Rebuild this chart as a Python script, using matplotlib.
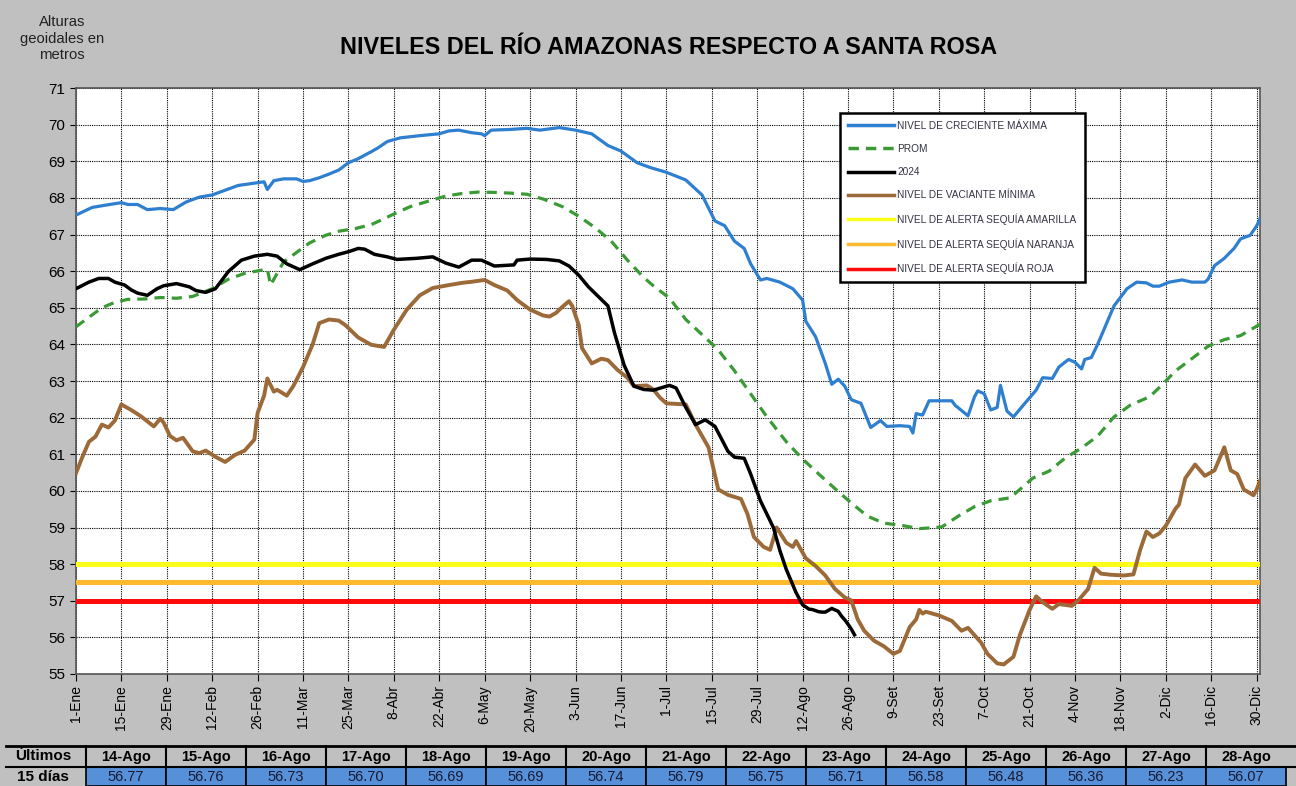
import numpy as np
import matplotlib
matplotlib.use("Agg")
import matplotlib.pyplot as plt
from matplotlib.patches import Rectangle
from matplotlib.lines import Line2D

plt.rcParams['font.family'] = ['Liberation Sans', 'DejaVu Sans']

# Dias del año (0 = 1-Ene, año bisiesto) y niveles en metros
max_dias = [0, 5, 9, 14, 16, 19, 22, 26, 30, 34, 38, 42, 46, 50, 54, 58, 59, 61, 64, 68, 70, 72, 75,
            78, 81, 84, 87, 91, 93, 96, 100, 106, 112, 115, 118, 122, 125, 126, 128, 134, 139, 143,
            149, 154, 159, 164, 168, 173, 177, 182, 188, 193, 197, 200, 203, 206, 208, 211, 213, 217,
            221, 224, 225, 228, 231, 233, 235, 237, 239, 242, 245, 248, 250, 254, 257, 258, 259, 261,
            263, 270, 271, 275, 277, 278, 280, 282, 284, 285, 287, 289, 293, 296, 298, 301, 303, 306,
            308, 310, 311, 313, 315, 320, 324, 327, 330, 332, 334, 337, 341, 344, 348, 349, 351, 354,
            357, 359, 362, 364, 365]
max_nivel = [67.53, 67.74, 67.80, 67.87, 67.82, 67.82, 67.68, 67.71, 67.68, 67.89, 68.02, 68.08, 68.21,
             68.34, 68.39, 68.44, 68.23, 68.47, 68.52, 68.52, 68.45, 68.47, 68.55, 68.65, 68.76, 68.96,
             69.07, 69.26, 69.36, 69.54, 69.64, 69.70, 69.75, 69.83, 69.85, 69.78, 69.75, 69.70, 69.85,
             69.87, 69.90, 69.85, 69.92, 69.85, 69.75, 69.43, 69.28, 68.96, 68.83, 68.70, 68.49, 68.08,
             67.37, 67.24, 66.82, 66.62, 66.20, 65.76, 65.80, 65.70, 65.52, 65.21, 64.63, 64.21, 63.48,
             62.91, 63.05, 62.86, 62.49, 62.39, 61.73, 61.92, 61.76, 61.78, 61.76, 61.58, 62.11, 62.07,
             62.46, 62.46, 62.34, 62.05, 62.57, 62.73, 62.65, 62.21, 62.28, 62.88, 62.18, 62.02, 62.44,
             62.75, 63.09, 63.07, 63.38, 63.59, 63.51, 63.33, 63.59, 63.64, 64.01, 65.05, 65.52, 65.70,
             65.68, 65.59, 65.59, 65.70, 65.76, 65.70, 65.70, 65.78, 66.15, 66.35, 66.62, 66.88, 66.98,
             67.24, 67.43]

prom_dias = [0, 4, 8, 12, 16, 21, 26, 31, 36, 42, 47, 52, 58, 59, 60, 64, 68, 72, 77, 81, 86, 91, 93,
             98, 103, 109, 114, 119, 124, 129, 134, 139, 144, 150, 155, 160, 165, 170, 175, 178, 183,
             188, 193, 198, 203, 208, 213, 219, 224, 229, 234, 239, 244, 249, 255, 260, 265, 267, 272,
             277, 282, 288, 291, 295, 300, 305, 310, 315, 320, 325, 331, 335, 339, 344, 349, 354, 359,
             365]
prom_nivel = [64.48, 64.74, 65.00, 65.15, 65.23, 65.24, 65.28, 65.26, 65.31, 65.52, 65.78, 65.94, 66.04,
              66.06, 65.62, 66.25, 66.51, 66.77, 66.98, 67.09, 67.16, 67.27, 67.35, 67.56, 67.76, 67.92,
              68.05, 68.12, 68.16, 68.15, 68.13, 68.10, 67.97, 67.76, 67.50, 67.19, 66.82, 66.30, 65.83,
              65.60, 65.26, 64.68, 64.27, 63.85, 63.28, 62.65, 62.02, 61.34, 60.87, 60.46, 60.06, 59.67,
              59.31, 59.12, 59.05, 58.97, 59.00, 59.02, 59.31, 59.57, 59.73, 59.81, 60.04, 60.35, 60.54,
              60.90, 61.17, 61.50, 62.02, 62.34, 62.57, 62.91, 63.28, 63.61, 63.95, 64.13, 64.24, 64.55]

n2024_dias = [0, 4, 7, 10, 12, 15, 17, 19, 22, 25, 27, 31, 35, 37, 40, 43, 47, 51, 55, 59, 62, 65, 69,
              73, 77, 81, 84, 87, 89, 92, 96, 99, 105, 110, 114, 118, 122, 125, 129, 135, 136, 140, 145,
              149, 152, 155, 158, 161, 164, 166, 169, 172, 175, 178, 181, 183, 185, 188, 191, 194, 197,
              201, 203, 206, 208, 211, 215, 217, 219, 222, 224]
n2024_nivel = [65.52, 65.70, 65.80, 65.80, 65.70, 65.62, 65.49, 65.40, 65.34, 65.52, 65.60, 65.66, 65.57,
               65.47, 65.42, 65.52, 65.99, 66.30, 66.41, 66.46, 66.41, 66.20, 66.04, 66.20, 66.35, 66.46,
               66.53, 66.62, 66.60, 66.46, 66.39, 66.32, 66.35, 66.39, 66.22, 66.11, 66.30, 66.30, 66.14,
               66.17, 66.30, 66.33, 66.32, 66.28, 66.14, 65.89, 65.57, 65.31, 65.05, 64.32, 63.43, 62.86,
               62.77, 62.75, 62.83, 62.88, 62.81, 62.28, 61.81, 61.94, 61.76, 61.08, 60.92, 60.89, 60.46,
               59.73, 59.00, 58.37, 57.85, 57.22, 56.89]

min_dias = [0, 2, 4, 6, 8, 10, 12, 14, 17, 20, 24, 26, 27, 29, 31, 33, 36, 38, 40, 43, 46, 49, 52, 55,
            56, 58, 59, 61, 62, 65, 67, 70, 73, 75, 78, 81, 83, 87, 91, 95, 98, 102, 106, 110, 115, 119,
            122, 126, 129, 133, 136, 140, 144, 146, 148, 150, 152, 153, 155, 156, 159, 162, 164, 167,
            170, 172, 176, 178, 180, 182, 188, 191, 195, 198, 201, 205, 207, 209, 212, 214, 216, 219,
            221, 222, 225, 228, 231, 234, 237, 239, 241, 243, 246, 249, 252, 254, 257, 259, 260, 261,
            262, 266, 270, 273, 275, 279, 281, 284, 286, 289, 291, 294, 296, 298, 301, 303, 307, 309,
            312, 314, 316, 319, 323, 326, 328, 330, 332, 334, 336, 339, 340, 342, 345, 348, 351, 354,
            356, 358, 360, 363, 364, 365]
min_nivel = [60.48, 60.93, 61.34, 61.48, 61.81, 61.73, 61.92, 62.36, 62.21, 62.04, 61.76, 61.97, 61.87,
             61.50, 61.38, 61.45, 61.08, 61.03, 61.10, 60.93, 60.79, 60.98, 61.10, 61.40, 62.13, 62.60,
             63.07, 62.71, 62.76, 62.60, 62.86, 63.38, 64.01, 64.58, 64.68, 64.65, 64.53, 64.19, 63.99,
             63.93, 64.40, 64.95, 65.34, 65.54, 65.62, 65.68, 65.71, 65.76, 65.62, 65.47, 65.21, 64.95,
             64.79, 64.76, 64.86, 65.03, 65.18, 65.05, 64.53, 63.90, 63.48, 63.61, 63.57, 63.30, 63.09,
             62.86, 62.88, 62.77, 62.55, 62.39, 62.36, 61.81, 61.19, 60.04, 59.89, 59.78, 59.37, 58.74,
             58.47, 58.39, 59.00, 58.58, 58.47, 58.63, 58.16, 57.95, 57.69, 57.32, 57.09, 57.01, 56.49,
             56.18, 55.91, 55.76, 55.55, 55.63, 56.28, 56.49, 56.75, 56.65, 56.70, 56.60, 56.45, 56.18,
             56.26, 55.86, 55.55, 55.29, 55.26, 55.47, 56.07, 56.75, 57.12, 56.96, 56.78, 56.91, 56.86,
             57.01, 57.32, 57.90, 57.74, 57.71, 57.69, 57.72, 58.37, 58.89, 58.74, 58.84, 59.05, 59.52,
             59.62, 60.35, 60.72, 60.41, 60.56, 61.19, 60.56, 60.46, 60.04, 59.88, 60.04, 60.27]

alerta_amarilla = 58.0
alerta_naranja = 57.5
alerta_roja = 57.0

# Ultimos 15 dias (14-Ago .. 28-Ago)
tabla_fechas = ['14-Ago', '15-Ago', '16-Ago', '17-Ago', '18-Ago', '19-Ago', '20-Ago', '21-Ago',
                '22-Ago', '23-Ago', '24-Ago', '25-Ago', '26-Ago', '27-Ago', '28-Ago']
tabla_valores = [56.77, 56.76, 56.73, 56.70, 56.69, 56.69, 56.74, 56.79, 56.75, 56.71, 56.58,
                 56.48, 56.36, 56.23, 56.07]
tabla_dias = list(range(226, 241))

etiquetas_x = ['1-Ene', '15-Ene', '29-Ene', '12-Feb', '26-Feb', '11-Mar', '25-Mar', '8-Abr', '22-Abr',
               '6-May', '20-May', '3-Jun', '17-Jun', '1-Jul', '15-Jul', '29-Jul', '12-Ago', '26-Ago',
               '9-Set', '23-Set', '7-Oct', '21-Oct', '4-Nov', '18-Nov', '2-Dic', '16-Dic', '30-Dic']

gris = '#C0C0C0'
fig = plt.figure(figsize=(12.96, 7.86), dpi=100, facecolor=gris)
ax = fig.add_axes([0.0586, 0.1425, 0.9136, 0.7455])
ax.set_facecolor('white')

ax.axhline(alerta_amarilla, color='#FFFF1A', lw=3.6, zorder=3)
ax.axhline(alerta_naranja, color='#FFB92E', lw=3.6, zorder=3)
ax.axhline(alerta_roja, color='#FF0A0A', lw=3.6, zorder=3)

ax.plot(max_dias, max_nivel, color='#2E7FD0', lw=2.3, zorder=4)
ax.plot(prom_dias, prom_nivel, color='#3A9A35', lw=2.3, ls=(0, (3.2, 2.2)), zorder=4)
ax.plot(n2024_dias + tabla_dias, n2024_nivel + tabla_valores, color='black', lw=2.5, zorder=5)
ax.plot(min_dias, min_nivel, color='#9C6A38', lw=2.8, zorder=4)

ax.set_xlim(0, 365)
ax.set_ylim(55, 71)
ax.set_yticks(range(55, 72))
ax.set_xticks(range(0, 365, 14))
ax.set_xticklabels(etiquetas_x, rotation=90, fontsize=10)
ax.tick_params(axis='y', labelsize=11, length=4, direction='out')
ax.tick_params(axis='x', length=5, direction='out', pad=3)
ax.grid(True, color='black', ls=(0, (1, 1)), lw=0.8, zorder=1)
ax.set_axisbelow(True)
for s in ax.spines.values():
    s.set_color('#555555')
    s.set_linewidth(1.2)

# leyenda
handles = [Line2D([], [], color='#2E7FD0', lw=2.5),
           Line2D([], [], color='#3A9A35', lw=2.5, ls=(0, (3, 2))),
           Line2D([], [], color='black', lw=2.5),
           Line2D([], [], color='#9C6A38', lw=2.5),
           Line2D([], [], color='#FFFF1A', lw=2.5),
           Line2D([], [], color='#FFB92E', lw=2.5),
           Line2D([], [], color='#FF0A0A', lw=2.5)]
labels = ['NIVEL DE CRECIENTE MÁXIMA', 'PROM', '2024', 'NIVEL DE VACIANTE MÍNIMA',
          'NIVEL DE ALERTA SEQUÍA AMARILLA', 'NIVEL DE ALERTA SEQUÍA NARANJA',
          'NIVEL DE ALERTA SEQUÍA ROJA']
leg = ax.legend(handles, labels, loc='upper left', bbox_to_anchor=(0.645, 0.958), fontsize=7.3,
                handlelength=4.6, labelspacing=1.3, handletextpad=0.3, borderpad=0.8,
                fancybox=False, framealpha=1, edgecolor='black', borderaxespad=0)
leg.get_frame().set_linewidth(1.8)
for t in leg.get_texts():
    t.set_color('#333344')
leg.set_zorder(10)

fig.text(0.516, 0.94, 'NIVELES DEL RÍO AMAZONAS RESPECTO A SANTA ROSA', ha='center', va='center',
         fontsize=16.8, fontweight='bold')
fig.text(0.048, 0.951, 'Alturas\ngeoidales en\nmetros', ha='center', va='center', fontsize=10.7,
         linespacing=1.25, color='#222222')

# tabla inferior
tx = fig.add_axes([0, 0, 1, 1 - 745 / 786])
tx.set_xlim(0, 1296)
tx.set_ylim(41, 0)
tx.axis('off')
ancho = 80.0
x0 = 86
tx.plot([6, 1296], [0.5, 0.5], color='black', lw=2)
tx.plot([6, 1296], [22, 22], color='black', lw=1.5)
for i, (f, v) in enumerate(zip(tabla_fechas, tabla_valores)):
    xl = x0 + i * ancho
    tx.add_patch(Rectangle((xl, 22), ancho, 19, facecolor='#5690D8', edgecolor='black', lw=1.2))
    tx.plot([xl, xl], [0.5, 22], color='black', lw=1.5)
    tx.text(xl + ancho / 2, 11.5, f, ha='center', va='center', fontsize=10.5, fontweight='bold')
    tx.text(xl + ancho / 2, 32, f'{v:.2f}', ha='center', va='center', fontsize=10.5, color='#1a1a33')
tx.text(43, 11.5, 'Últimos', ha='center', va='center', fontsize=11, fontweight='bold')
tx.text(43, 32, '15 días', ha='center', va='center', fontsize=11, fontweight='bold')

fig.savefig('out.png', dpi=100, facecolor=gris)
